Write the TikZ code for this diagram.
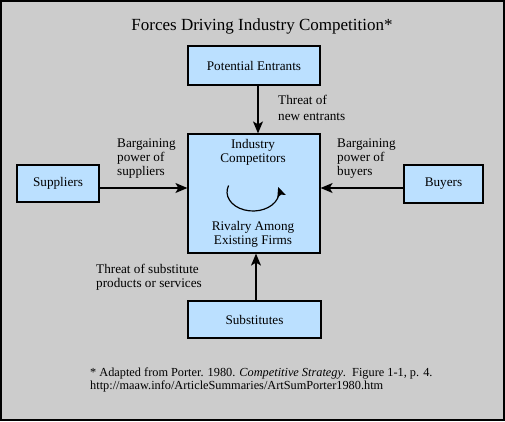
\documentclass[tikz,border=0pt]{standalone}
\usepackage{fontspec}
\setmainfont{Liberation Serif}
\usetikzlibrary{arrows.meta}
\definecolor{bg}{RGB}{204,204,204}
\definecolor{boxblue}{RGB}{187,224,255}
\begin{document}
\begin{tikzpicture}[x=1bp,y=-1bp,
  box/.style={draw=black,fill=boxblue,line width=1.2bp,inner sep=0pt,font=\fontsize{13.2bp}{14bp}\selectfont},
  arr/.style={line width=1.2bp,-{Stealth[length=12bp,width=10bp,inset=3bp]}},
  lbl/.style={font=\fontsize{13.2bp}{14bp}\selectfont,align=left,inner sep=0pt,anchor=west},
  txt/.style={font=\fontsize{13.2bp}{14bp}\selectfont,align=center,inner sep=0pt}]
\useasboundingbox (0,0) rectangle (505,421);
\fill[bg] (0,0) rectangle (505,421);
\draw[line width=2bp] (1,1) rectangle (504,420);
\node[font=\fontsize{17bp}{19bp}\selectfont,inner sep=0pt] (title) at (262,26) {Forces Driving Industry Competition*};
% boxes
\node[box,minimum width=132bp,minimum height=39bp] (entr) at (254,65.5) {Potential Entrants};
\node[box,minimum width=132bp,minimum height=119bp] (comp) at (254,193.5) {};
\node[box,minimum width=82bp,minimum height=37bp] (sup) at (58,183.5) {Suppliers};
\node[box,minimum width=79bp,minimum height=38bp] (buy) at (443.5,184) {Buyers};
\node[box,minimum width=133bp,minimum height=37bp] (subs) at (254.5,319.5) {Substitutes};
% texts in center box
\node[txt] (ic) at (253,152) {Industry\\Competitors};
\node[txt] (rv) at (253,234.5) {Rivalry Among\\Existing Firms};
\draw[line width=1.2bp,-{Stealth[length=10bp,width=9bp,inset=2bp]}] (228.6,185.5) arc[start angle=200,end angle=-15,x radius=26,y radius=19];
% labels
\node[lbl,font=\fontsize{13.2bp}{16bp}\selectfont] (lne) at (278,108) {Threat of\\new entrants};
\node[lbl] (lsup) at (117,159) {Bargaining\\power of\\suppliers};
\node[lbl] (lbuy) at (337,159) {Bargaining\\power of\\buyers};
\node[lbl] (lsub) at (96,277) {Threat of substitute\\products or services};
\node[lbl,font=\fontsize{12.3bp}{13bp}\selectfont] (note) at (90,379.5) {* Adapted from Porter. 1980. \textit{Competitive Strategy}.\ \ Figure 1-1, p. 4.\\http://maaw.info/ArticleSummaries/ArtSumPorter1980.htm};
% arrows
\coordinate (hy) at (0,188);
\coordinate (vx1) at (258,0);
\coordinate (vx2) at (256,0);
\draw[arr] (sup.east |- hy) -- (comp.west |- hy);
\draw[arr] (buy.west |- hy) -- (comp.east |- hy);
\draw[arr] (entr.south -| vx1) -- (comp.north -| vx1);
\draw[arr] (subs.north -| vx2) -- (comp.south -| vx2);
\end{tikzpicture}
\end{document}
